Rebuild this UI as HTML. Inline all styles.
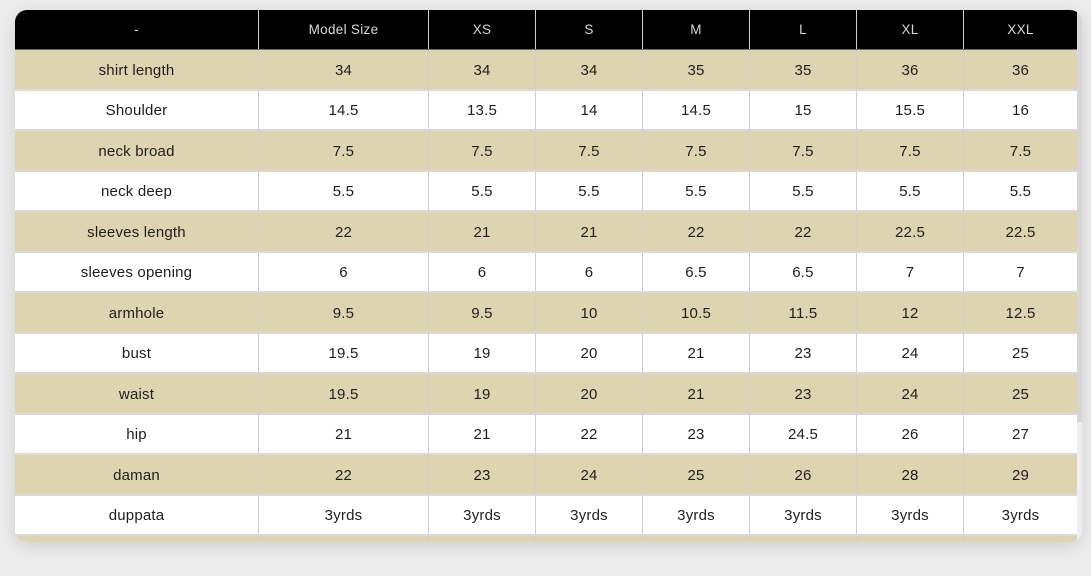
<!DOCTYPE html>
<html><head><meta charset="utf-8">
<style>
html,body{margin:0;padding:0;}
body{width:1091px;height:576px;background:#ececec;position:relative;overflow:hidden;font-family:"Liberation Sans",sans-serif;}
.card{position:absolute;left:15px;top:10px;width:1067px;height:532px;border-radius:12px;overflow:hidden;background:#fff;box-shadow:0 4px 16px rgba(0,0,0,0.13);}
.row{position:absolute;left:0;width:1062px;display:flex;box-sizing:border-box;}
.hdr{top:0;height:40px;background:#000;color:#d8d8d8;font-size:13.5px;letter-spacing:0.3px;border-bottom:1px solid #6a6a6a;}
.b{background:#dfd4b0;}
.w{background:#fff;}
.r{height:40.5px;border-bottom:2px solid #d9d9d9;color:#1e1e1e;font-size:15px;letter-spacing:0.2px;}
.c{display:flex;align-items:center;justify-content:center;box-sizing:border-box;height:100%;}
.r .c{padding-top:2px;}
.c+.c{border-left:1px solid #cfcfcf;}
.c0{width:243px}.c1{width:170px}.c2,.c3,.c4,.c5,.c6{width:107px}.c7{width:114px}
.sb{position:absolute;left:1062px;top:0;width:5px;height:532px;background:#efefef;}
.th{position:absolute;left:0;top:0;width:5px;height:412px;background:#d6d6d6;}
</style></head><body>
<div class="card">
<div class="row hdr"><div class="c c0">-</div><div class="c c1">Model Size</div><div class="c c2">XS</div><div class="c c3">S</div><div class="c c4">M</div><div class="c c5">L</div><div class="c c6">XL</div><div class="c c7">XXL</div></div>
<div class="row r b" style="top:40px"><div class="c c0">shirt length</div><div class="c c1">34</div><div class="c c2">34</div><div class="c c3">34</div><div class="c c4">35</div><div class="c c5">35</div><div class="c c6">36</div><div class="c c7">36</div></div>
<div class="row r w" style="top:80.5px"><div class="c c0">Shoulder</div><div class="c c1">14.5</div><div class="c c2">13.5</div><div class="c c3">14</div><div class="c c4">14.5</div><div class="c c5">15</div><div class="c c6">15.5</div><div class="c c7">16</div></div>
<div class="row r b" style="top:121px"><div class="c c0">neck broad</div><div class="c c1">7.5</div><div class="c c2">7.5</div><div class="c c3">7.5</div><div class="c c4">7.5</div><div class="c c5">7.5</div><div class="c c6">7.5</div><div class="c c7">7.5</div></div>
<div class="row r w" style="top:161.5px"><div class="c c0">neck deep</div><div class="c c1">5.5</div><div class="c c2">5.5</div><div class="c c3">5.5</div><div class="c c4">5.5</div><div class="c c5">5.5</div><div class="c c6">5.5</div><div class="c c7">5.5</div></div>
<div class="row r b" style="top:202px"><div class="c c0">sleeves length</div><div class="c c1">22</div><div class="c c2">21</div><div class="c c3">21</div><div class="c c4">22</div><div class="c c5">22</div><div class="c c6">22.5</div><div class="c c7">22.5</div></div>
<div class="row r w" style="top:242.5px"><div class="c c0">sleeves opening</div><div class="c c1">6</div><div class="c c2">6</div><div class="c c3">6</div><div class="c c4">6.5</div><div class="c c5">6.5</div><div class="c c6">7</div><div class="c c7">7</div></div>
<div class="row r b" style="top:283px"><div class="c c0">armhole</div><div class="c c1">9.5</div><div class="c c2">9.5</div><div class="c c3">10</div><div class="c c4">10.5</div><div class="c c5">11.5</div><div class="c c6">12</div><div class="c c7">12.5</div></div>
<div class="row r w" style="top:323.5px"><div class="c c0">bust</div><div class="c c1">19.5</div><div class="c c2">19</div><div class="c c3">20</div><div class="c c4">21</div><div class="c c5">23</div><div class="c c6">24</div><div class="c c7">25</div></div>
<div class="row r b" style="top:364px"><div class="c c0">waist</div><div class="c c1">19.5</div><div class="c c2">19</div><div class="c c3">20</div><div class="c c4">21</div><div class="c c5">23</div><div class="c c6">24</div><div class="c c7">25</div></div>
<div class="row r w" style="top:404.5px"><div class="c c0">hip</div><div class="c c1">21</div><div class="c c2">21</div><div class="c c3">22</div><div class="c c4">23</div><div class="c c5">24.5</div><div class="c c6">26</div><div class="c c7">27</div></div>
<div class="row r b" style="top:445px"><div class="c c0">daman</div><div class="c c1">22</div><div class="c c2">23</div><div class="c c3">24</div><div class="c c4">25</div><div class="c c5">26</div><div class="c c6">28</div><div class="c c7">29</div></div>
<div class="row r w" style="top:485.5px"><div class="c c0">duppata</div><div class="c c1">3yrds</div><div class="c c2">3yrds</div><div class="c c3">3yrds</div><div class="c c4">3yrds</div><div class="c c5">3yrds</div><div class="c c6">3yrds</div><div class="c c7">3yrds</div></div>
<div class="row r b" style="top:526px"><div class="c c0"></div><div class="c c1"></div><div class="c c2"></div><div class="c c3"></div><div class="c c4"></div><div class="c c5"></div><div class="c c6"></div><div class="c c7"></div></div>
<div class="sb"><div class="th"></div></div>
</div>
</body></html>
